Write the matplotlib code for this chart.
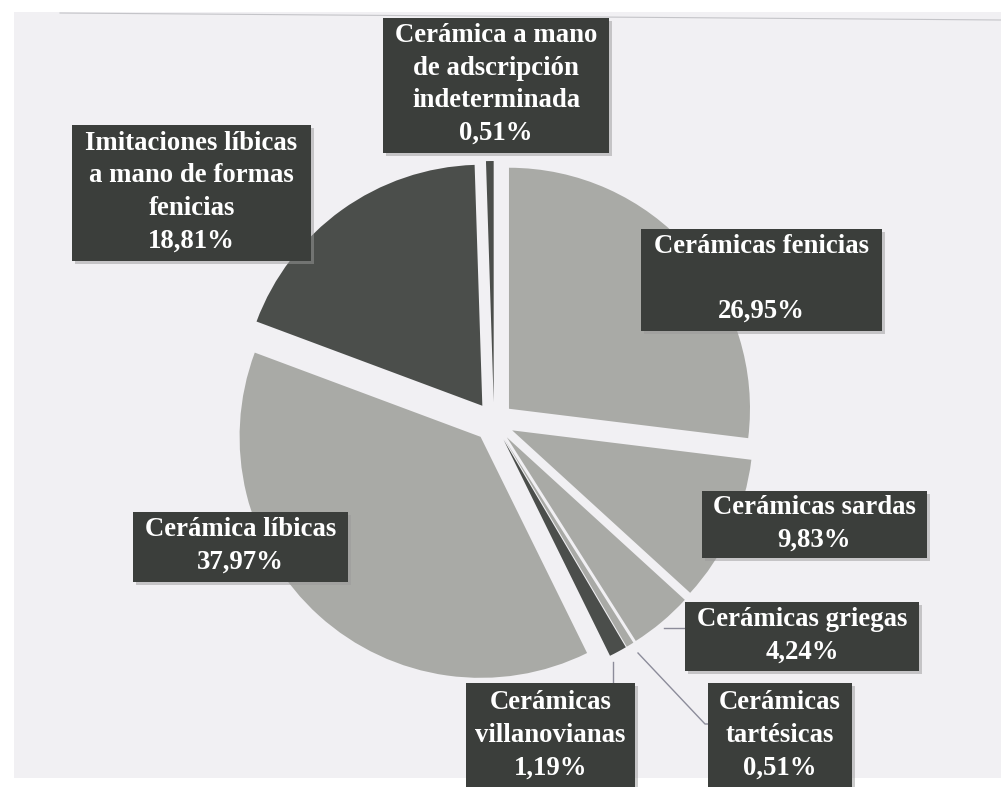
import matplotlib
matplotlib.use("Agg")
import matplotlib.pyplot as plt
from matplotlib.patches import Rectangle

categories = [
    "Cerámicas fenicias",
    "Cerámicas sardas",
    "Cerámicas griegas",
    "Cerámicas tartésicas",
    "Cerámicas villanovianas",
    "Cerámica líbicas",
    "Imitaciones líbicas a mano de formas fenicias",
    "Cerámica a mano de adscripción indeterminada",
]
values = [26.95, 9.83, 4.24, 0.51, 1.19, 37.97, 18.81, 0.51]
label_texts = [
    "Cerámicas fenicias\n\n26,95%",
    "Cerámicas sardas\n9,83%",
    "Cerámicas griegas\n4,24%",
    "Cerámicas\ntartésicas\n0,51%",
    "Cerámicas\nvillanovianas\n1,19%",
    "Cerámica líbicas\n37,97%",
    "Imitaciones líbicas\na mano de formas\nfenicias\n18,81%",
    "Cerámica a mano\nde adscripción\nindeterminada\n0,51%",
]

LIGHT = "#a9aaa6"
DARK = "#4b4e4b"
colors = [LIGHT, LIGHT, LIGHT, LIGHT, DARK, LIGHT, DARK, DARK]

W, H = 1001, 787
fig = plt.figure(figsize=(W / 100, H / 100), dpi=100)
fig.patch.set_facecolor("white")
ax = fig.add_axes([0, 0, 1, 1])

# paper background
ax.add_patch(Rectangle((14, H - 778), W - 14, 778 - 12, facecolor="#f1f0f3",
                       edgecolor="none", zorder=0))
ax.plot([60, 1001], [H - 13, H - 20], color="#c4c4c8", lw=0.8, zorder=0.5)

cx, cy, r = 494, H - 422, 241
ax.pie(values, colors=colors, startangle=90, counterclock=False,
       center=(cx, cy), radius=r, explode=[20] * len(values),
       wedgeprops=dict(edgecolor="none"), frame=True)

# label boxes (pixel extents: x0, x1, y0, y1)
boxes = [
    (641, 882, 229, 331),
    (702, 927, 491, 558),
    (685, 919, 602, 671),
    (708, 852, 683, 790),
    (466, 635, 683, 790),
    (133, 348, 512, 582),
    (72, 311, 125, 261),
    (383, 609, 18, 153),
]

# leader lines (pixel coords)
leaders = [
    [(664, 628), (685, 628)],
    [(638, 653), (705, 724), (708, 724)],
    [(613, 662), (613, 683)],
]
for pts in leaders:
    xs = [p[0] for p in pts]
    ys = [H - p[1] for p in pts]
    ax.plot(xs, ys, color="#8c8c9a", lw=1.0, zorder=2)

for (x0, x1, y0, y1), txt in zip(boxes, label_texts):
    ax.add_patch(Rectangle((x0 + 3, H - y1 - 3), x1 - x0, y1 - y0,
                           facecolor="#9a9a9a", edgecolor="none", alpha=0.5, zorder=3))
    ax.add_patch(Rectangle((x0, H - y1), x1 - x0, y1 - y0,
                           facecolor="#3b3e3b", edgecolor="none", zorder=4))
    ax.text((x0 + x1) / 2, H - (y0 + y1) / 2 + 1, txt, ha="center", va="center",
            color="white", fontsize=19.3, fontweight="bold",
            family=["Liberation Serif", "DejaVu Serif"], linespacing=1.4, zorder=5)

ax.set_xlim(0, W)
ax.set_ylim(0, H)
ax.set_aspect("equal")
ax.axis("off")
fig.savefig("out.png", dpi=100, facecolor=fig.get_facecolor())
